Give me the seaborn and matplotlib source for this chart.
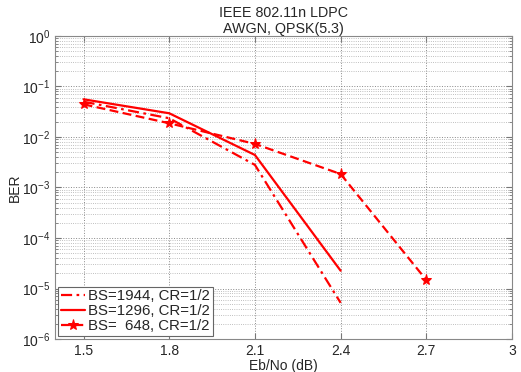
import matplotlib
matplotlib.use('Agg')
import matplotlib.pyplot as plt
import seaborn as sns
import pandas as pd
from matplotlib.ticker import LogLocator, NullFormatter, FixedLocator, FixedFormatter

# BER curves
ebno_1944 = [1.5, 1.8, 2.1, 2.4]
ber_1944 = [0.050, 0.0235, 0.0028, 5.2e-6]
ebno_1296 = [1.5, 1.8, 2.1, 2.4]
ber_1296 = [0.0558, 0.0295, 0.0044, 2.25e-5]
ebno_648 = [1.5, 1.8, 2.1, 2.4, 2.7]
ber_648 = [0.0444, 0.0187, 0.0073, 0.00185, 1.47e-5]
labels = ['BS=1944, CR=1/2', 'BS=1296, CR=1/2', 'BS=  648, CR=1/2']
x_ticks = [1.5, 1.8, 2.1, 2.4, 2.7, 3.0]
x_tick_labels = ['1.5', '1.8', '2.1', '2.4', '2.7', '3']

sns.set_style('ticks')
plt.rcParams['font.family'] = ['Liberation Sans', 'DejaVu Sans']
plt.rcParams['mathtext.fontset'] = 'custom'
plt.rcParams['mathtext.rm'] = 'Liberation Sans'

fig = plt.figure(figsize=(5.21, 3.72), dpi=100)
ax = fig.add_axes([55 / 521, 33 / 372, 457 / 521, 303 / 372])

df_1944 = pd.DataFrame({'ebno': ebno_1944, 'ber': ber_1944})
df_1296 = pd.DataFrame({'ebno': ebno_1296, 'ber': ber_1296})
df_648 = pd.DataFrame({'ebno': ebno_648, 'ber': ber_648})

sns.lineplot(data=df_1944, x='ebno', y='ber', ax=ax, color='red', lw=1.6,
             linestyle=(0, (5, 2, 1.2, 2)), label=labels[0])
sns.lineplot(data=df_1296, x='ebno', y='ber', ax=ax, color='red', lw=1.6,
             linestyle='-', label=labels[1])
sns.lineplot(data=df_648, x='ebno', y='ber', ax=ax, color='red', lw=1.6,
             linestyle=(0, (4, 2)), marker='*', markersize=8,
             markeredgecolor='red', markerfacecolor='red', label=labels[2])

ax.set_yscale('log')
ax.set_xlim(1.4, 3.0)
ax.set_ylim(1e-6, 1)
ax.xaxis.set_major_locator(FixedLocator(x_ticks))
ax.xaxis.set_major_formatter(FixedFormatter(x_tick_labels))
ax.yaxis.set_major_locator(LogLocator(base=10, numticks=10))
ax.yaxis.set_minor_locator(LogLocator(base=10, subs=range(2, 10), numticks=20))
ax.yaxis.set_minor_formatter(NullFormatter())

ax.grid(True, which='major', axis='both', linestyle=':', color='#888888', lw=0.7)
ax.grid(True, which='minor', axis='y', linestyle=':', color='#aaaaaa', lw=0.6)

ax.tick_params(which='both', direction='in', top=True, right=True,
               labelsize=10, color='#777777')
ax.tick_params(which='major', length=4)
ax.tick_params(which='minor', length=2)
for sp in ax.spines.values():
    sp.set_color('#888888')
    sp.set_linewidth(0.8)

ax.set_title('IEEE 802.11n LDPC\nAWGN, QPSK(5.3)', fontsize=10.3, pad=2, linespacing=1.15)
ax.set_xlabel('Eb/No (dB)', fontsize=10, labelpad=1)
ax.set_ylabel('BER', fontsize=10)
ax.yaxis.set_label_coords(-0.072, 0.5)

leg = ax.legend(loc='lower left', fontsize=10.8, frameon=True, fancybox=False,
                framealpha=1, edgecolor='#666666', borderaxespad=0.2,
                handlelength=1.6, handletextpad=0.2, borderpad=0.2,
                labelspacing=0.05)
leg.get_frame().set_linewidth(0.8)

fig.savefig('out.png', dpi=100)
